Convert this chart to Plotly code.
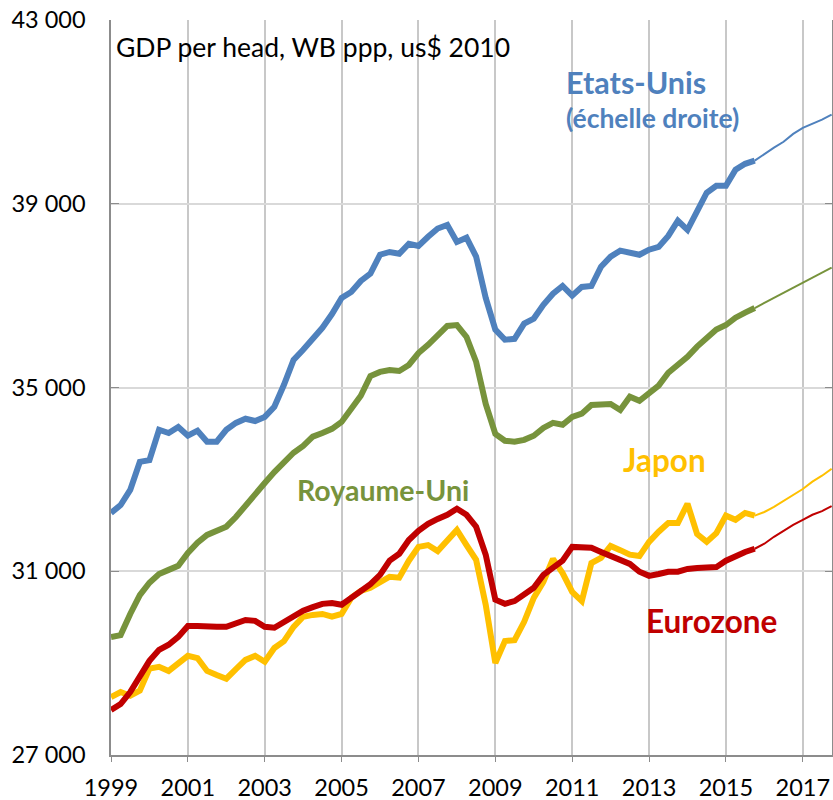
import plotly.graph_objects as go

# Quarterly, 1999Q1 .. 2015Q4 (observed), then forecast 2015Q4 .. 2017Q4
us_hist = [32270, 32440, 32770, 33380,
           33420, 34080, 34010, 34140,
           33950, 34060, 33820, 33820,
           34080, 34230, 34320, 34270,
           34360, 34580, 35060, 35600,
           35820, 36060, 36300, 36600,
           36950, 37080, 37320, 37480,
           37890, 37950, 37910, 38130,
           38080, 38280, 38460, 38540,
           38170, 38260, 37850, 36950,
           36260, 36040, 36060, 36390,
           36500, 36800, 37040, 37210,
           37000, 37190, 37210, 37630,
           37850, 37980, 37950, 37890,
           38000, 38060, 38300, 38630,
           38430, 38850, 39240, 39390,
           39390, 39740, 39870, 39940]
us_fcst = [39940, 40090, 40220, 40350, 40520, 40650, 40740, 40830, 40940]

uk_hist = [29570, 29610, 30070, 30480,
           30750, 30940, 31030, 31120,
           31400, 31620, 31790, 31880,
           31970, 32180, 32440, 32710,
           32920, 33160, 33380, 33580,
           33730, 33930, 34010, 34100,
           34250, 34510, 34820, 35250,
           35340, 35380, 35360, 35490,
           35750, 35930, 36150, 36340,
           36360, 36100, 35560, 34640,
           33990, 33840, 33820, 33860,
           33950, 34120, 34230, 34190,
           34360, 34430, 34620, 34640,
           34640, 34510, 34800, 34710,
           34880, 35040, 35320, 35490,
           35670, 35890, 36080, 36260,
           36360, 36520, 36630, 36730]
uk_fcst = [36730, 36840, 36950, 37060, 37170, 37280, 37390, 37500, 37610]

jp_hist = [28260, 28370, 28290, 28400,
           28880, 28920, 28830, 29000,
           29160, 29110, 28830, 28740,
           28660, 28870, 29070, 29160,
           29030, 29330, 29480, 29790,
           30010, 30050, 30070, 30010,
           30070, 30420, 30570, 30640,
           30750, 30880, 30860, 31230,
           31530, 31570, 31440, 31660,
           31900, 31570, 31250, 30270,
           29000, 29480, 29500, 29900,
           30420, 30770, 31270, 30960,
           30550, 30350, 31180, 31290,
           31550, 31460, 31360, 31330,
           31640, 31860, 32050, 32050,
           32470, 31810, 31640, 31830,
           32210, 32120, 32270, 32210]
jp_fcst = [32210, 32290, 32400, 32530, 32660, 32790, 32950, 33080, 33230]

ez_hist = [27980, 28110, 28370, 28720,
           29050, 29290, 29400, 29570,
           29810, 29810, 29790, 29790,
           29790, 29850, 29940, 29920,
           29790, 29770, 29900, 30030,
           30140, 30220, 30290, 30310,
           30270, 30420, 30570, 30720,
           30920, 31230, 31380, 31680,
           31880, 32030, 32140, 32230,
           32360, 32230, 31970, 31360,
           30380, 30290, 30350, 30510,
           30640, 30920, 31070, 31230,
           31530, 31510, 31510, 31420,
           31330, 31230, 31160, 30990,
           30900, 30940, 30990, 30990,
           31050, 31070, 31070, 31090,
           31230, 31330, 31420, 31490]
ez_fcst = [31490, 31600, 31750, 31880, 32010, 32120, 32230, 32310, 32420]

t_hist = [1999 + q / 4 for q in range(len(us_hist))]
t_fcst = [t_hist[-1] + q / 4 for q in range(len(us_fcst))]

y_ticks = [27000, 31000, 35000, 39000, 43000]
y_ticktext = ["27 000", "31 000", "35 000", "39 000", "43 000"]
x_ticks = list(range(1999, 2018, 2))

BLUE = "#4F81BD"
GREEN = "#77933C"
YELLOW = "#FFC000"
RED = "#C00000"
FONT = "Lato"

fig = go.Figure()
series = [
    (us_hist, us_fcst, BLUE, "y2", "Etats-Unis"),
    (uk_hist, uk_fcst, GREEN, "y", "Royaume-Uni"),
    (jp_hist, jp_fcst, YELLOW, "y", "Japon"),
    (ez_hist, ez_fcst, RED, "y", "Eurozone"),
]
for hist, fcst, col, yax, name in series:
    fig.add_trace(go.Scatter(x=t_fcst, y=fcst, mode="lines", yaxis=yax, name=name,
                             line=dict(color=col, width=2), showlegend=False))
    fig.add_trace(go.Scatter(x=t_hist, y=hist, mode="lines", yaxis=yax, name=name,
                             line=dict(color=col, width=6), showlegend=False))

def ann(text, x, y, color, size, bold=True):
    fig.add_annotation(x=x, y=y, xref="x", yref="y", text=f"<b>{text}</b>" if bold else text,
                       showarrow=False, xanchor="left", yanchor="middle",
                       font=dict(family=FONT, size=size, color=color))

ann("GDP per head, WB ppp, us$ 2010", 1999.08, 42420, "#000000", 26.5, bold=False)
ann("Etats-Unis", 2010.78, 41640, BLUE, 30.5)
ann("(échelle droite)", 2010.78, 40860, BLUE, 26.5)
ann("Royaume-Uni", 2003.8, 32760, GREEN, 28.5)
ann("Japon", 2012.26, 33430, YELLOW, 31.5)
ann("Eurozone", 2012.88, 29910, RED, 31.5)

fig.update_layout(
    width=833, height=800,
    margin=dict(l=111, r=1, t=20, b=45, autoexpand=False),
    paper_bgcolor="white", plot_bgcolor="white",
    font=dict(family=FONT, size=23.5, color="#000000"),
    xaxis=dict(range=[1999, 2017.76], tickvals=x_ticks, showgrid=True, automargin=False,
               gridcolor="#C8C8C8", gridwidth=1.5, showline=True, linecolor="#8C8C8C",
               linewidth=1.5, ticks="outside", ticklen=5, tickcolor="#8C8C8C",
               tickfont=dict(family=FONT, size=23.5, color="#000000"),
               ticklabelstandoff=6, zeroline=False),
    yaxis=dict(range=[27000, 43000], tickvals=y_ticks, ticktext=y_ticktext, automargin=False,
               showgrid=True, gridcolor="#D9D9D9", gridwidth=1.5, showline=True,
               linecolor="#8C8C8C", linewidth=1.5, ticks="inside", ticklen=8,
               tickcolor="#8C8C8C", tickfont=dict(family=FONT, size=23.5, color="#000000"),
               ticklabelstandoff=19, zeroline=False),
    yaxis2=dict(range=[27000, 43000], tickvals=y_ticks, overlaying="y", side="right",
                automargin=False,
                showgrid=False, showline=True, linecolor="#8C8C8C", linewidth=1.5,
                ticks="inside", ticklen=7, tickcolor="#8C8C8C", showticklabels=False,
                zeroline=False),
)

fig.write_html("out.html", config={"displayModeBar": False},
               post_script="document.body.style.margin='0';document.body.style.overflow='hidden';")
